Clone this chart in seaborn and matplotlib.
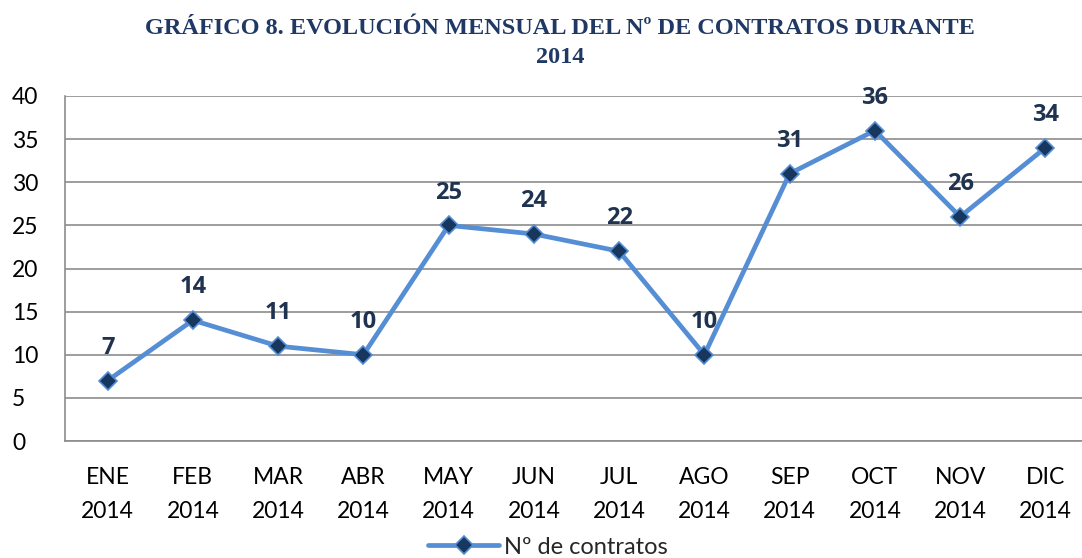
import matplotlib
matplotlib.use("Agg")
import matplotlib.pyplot as plt
import seaborn as sns
import pandas as pd
from matplotlib.lines import Line2D

months = ["ENE", "FEB", "MAR", "ABR", "MAY", "JUN", "JUL", "AGO", "SEP", "OCT", "NOV", "DIC"]
year = "2014"
contratos = [7, 14, 11, 10, 25, 24, 22, 10, 31, 36, 26, 34]
series_name = "Nº de contratos"
title = "GRÁFICO 8. EVOLUCIÓN MENSUAL DEL Nº DE CONTRATOS DURANTE\n2014"

sns.set_theme(style="white")
plt.rcParams['font.family'] = ['Lato', 'DejaVu Sans']

df = pd.DataFrame({"pos": range(len(months)), "val": contratos})

fig = plt.figure(figsize=(10.82, 5.58), dpi=100)
W, H = 1082, 558
ax = fig.add_axes([65 / W, 1 - 441 / H, (1088 - 65) / W, (441 - 96) / H])

line_c = "#558ED5"
mark_c = "#17375E"
sns.lineplot(data=df, x="pos", y="val", ax=ax, color=line_c, linewidth=3.4,
             marker="D", markersize=9, markerfacecolor=mark_c,
             markeredgecolor=line_c, markeredgewidth=1.2, label=series_name, legend=False)

ax.set_xlim(-0.5, len(months) - 0.5)
ax.set_ylim(0, 40)
ax.set_yticks(range(0, 41, 5))
ax.set_xticks(range(len(months)))
ax.set_xticklabels([f"{m}\n{year}" for m in months], fontsize=16.5, linespacing=1.75, color="black")
ax.tick_params(axis="y", labelsize=16.5, colors="black", pad=38, length=0)
ax.tick_params(axis="x", length=0, pad=19)
for t in ax.get_yticklabels():
    t.set_horizontalalignment("left")
ax.set_xlabel("")
ax.set_ylabel("")
ax.yaxis.grid(True, color="#8C8C8C", linewidth=1.2)
ax.set_axisbelow(True)
for s in ["top", "right"]:
    ax.spines[s].set_visible(False)
for s in ["left", "bottom"]:
    ax.spines[s].set_color("#8C8C8C")
    ax.spines[s].set_linewidth(1.2)

for x, v in zip(df["pos"], df["val"]):
    ax.annotate(str(v), (x, v), xytext=(0, 15), textcoords="offset points",
                ha="center", va="bottom", fontsize=17, fontweight="bold", color="#1F3350",
                family=["Open Sans", "DejaVu Sans"])

fig.text(560 / W, 1 - 43 / H, title, ha="center", va="center", fontsize=17.5,
         fontweight="bold", color="#1F3864", family=["Liberation Serif", "DejaVu Serif"],
         linespacing=1.55)

h = Line2D([], [], color=line_c, linewidth=3.4, marker="D", markersize=9,
           markerfacecolor=mark_c, markeredgecolor=line_c, markeredgewidth=1.2)
fig.legend([h], [series_name], loc="center", bbox_to_anchor=(548 / W, 1 - 547 / H),
           frameon=False, fontsize=17, handlelength=3, handletextpad=0.2, borderpad=0)

fig.savefig("out.png", dpi=100)
